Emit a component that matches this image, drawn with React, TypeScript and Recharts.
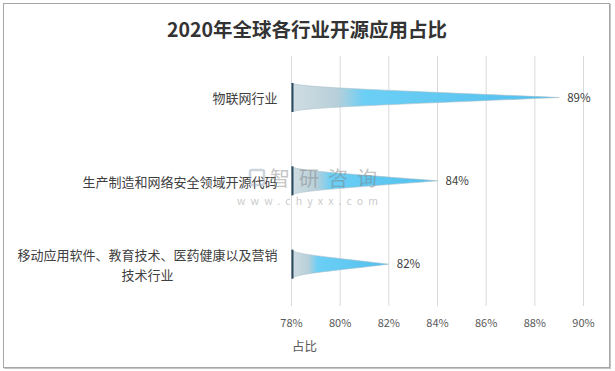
import React from 'react';
import { BarChart, Bar, XAxis, YAxis, CartesianGrid, LabelList } from 'recharts';

const categories = [
  '物联网行业',
  '生产制造和网络安全领域开源代码',
  '移动应用软件、教育技术、医药健康以及营销技术行业',
];
const shares = [89, 84, 82];
const xTicks = [78, 80, 82, 84, 86, 88, 90];
const title = '2020年全球各行业开源应用占比';
const xAxisTitle = '占比';
const watermarkCn = '智研咨询';
const watermarkEn = 'www.chyxx.com';

const data = categories.map((name, i) => ({ name, value: shares[i] }));

const FONT = '"Noto Sans CJK SC", "Noto Sans", sans-serif';
const W = 615;
const H = 371;

const SpikeShape = (props: any) => {
  const { x, y, width, height } = props;
  if (!width || width <= 0) return null;
  const top = y;
  const bot = y + height;
  const cy = y + height / 2;
  const tip = x + width;
  const h2 = height / 2;
  const d =
    `M${x},${top} ` +
    `C${x + 0.03 * width},${top + 0.3 * h2} ${x + 0.3 * width},${top + 0.45 * h2} ${tip},${cy} ` +
    `C${x + 0.3 * width},${bot - 0.45 * h2} ${x + 0.03 * width},${bot - 0.3 * h2} ${x},${bot} Z`;
  return (
    <g>
      <path d={d} fill="url(#spikeGrad)" stroke="#a9bfca" strokeWidth={0.6} />
      <line x1={x + 1} x2={x + 1} y1={top} y2={bot} stroke="#2e4b5e" strokeWidth={2} />
    </g>
  );
};

const YTick = (props: any) => {
  const { x, y, payload } = props;
  const text: string = String(payload.value);
  const fs = 13;
  const maxChars = 20;
  const common = { fontSize: fs, fontFamily: FONT, fill: '#404040', dominantBaseline: 'central' as const };
  if (text.length <= maxChars) {
    return (
      <text x={x} y={y} textAnchor="end" {...common}>
        {text}
      </text>
    );
  }
  const l1 = text.slice(0, maxChars);
  const l2 = text.slice(maxChars);
  const center = x - (l1.length * fs) / 2;
  return (
    <g>
      <text x={x} y={y - 10} textAnchor="end" {...common}>
        {l1}
      </text>
      <text x={center} y={y + 10} textAnchor="middle" {...common}>
        {l2}
      </text>
    </g>
  );
};

const XTick = (props: any) => {
  const { x, y, payload } = props;
  return (
    <text
      x={x}
      y={y + 16}
      textAnchor="middle"
      dominantBaseline="central"
      fontSize={11}
      fontFamily={FONT}
      fill="#595959"
    >
      {`${payload.value}%`}
    </text>
  );
};

export default function App() {
  return (
    <div style={{ position: 'absolute', left: 0, top: 0, width: W, height: H, background: '#fff' }}>
      <div
        style={{
          position: 'absolute',
          left: 3,
          top: 3,
          width: 605,
          height: 363,
          border: '1px solid #a6a6a6',
          boxShadow: '1px 1px 0 #c4c4c4',
        }}
      />
      <div style={{ position: 'absolute', left: 0, top: 0 }}>
        <BarChart
          width={W}
          height={H}
          data={data}
          layout="vertical"
          margin={{ top: 56, right: 31.5, bottom: 0, left: 0 }}
          barCategoryGap={0}
        >
          <defs>
            <linearGradient id="spikeGrad" x1="0" y1="0" x2="1" y2="0">
              <stop offset="0" stopColor="#d0dde3" />
              <stop offset="0.17" stopColor="#b8cfd9" />
              <stop offset="0.27" stopColor="#6ccff5" />
              <stop offset="1" stopColor="#50bfee" />
            </linearGradient>
          </defs>
          <CartesianGrid horizontal={false} stroke="#d9d9d9" />
          <XAxis
            type="number"
            domain={[78, 90]}
            ticks={xTicks}
            axisLine={false}
            tickLine={false}
            tickSize={0}
            tickMargin={0}
            height={65}
            tick={<XTick />}
            interval={0}
          />
          <YAxis
            type="category"
            dataKey="name"
            width={291.5}
            axisLine={false}
            tickLine={false}
            tickSize={0}
            tickMargin={14}
            tick={<YTick />}
            interval={0}
          />
          <Bar dataKey="value" barSize={29} shape={<SpikeShape />} isAnimationActive={false}>
            <LabelList
              dataKey="value"
              position="right"
              offset={8}
              formatter={(v: any) => `${v}%`}
              fill="#404040"
              fontSize={11.5}
              fontFamily={FONT}
            />
          </Bar>
        </BarChart>
      </div>
      <svg
        width={W}
        height={H}
        style={{ position: 'absolute', left: 0, top: 0, pointerEvents: 'none' }}
      >
        <text
          x={307}
          y={28}
          textAnchor="middle"
          dominantBaseline="central"
          fontSize={19.5}
          fontWeight="bold"
          fontFamily={FONT}
          fill="#333333"
        >
          {title}
        </text>
        <text
          x={292}
          y={345}
          dominantBaseline="central"
          fontSize={12.5}
          fontFamily={FONT}
          fill="#595959"
        >
          {xAxisTitle}
        </text>
        <g opacity={0.45}>
          <rect x={250} y={170} width={14} height={15} rx={2} fill="none" stroke="#8fa3b8" strokeWidth={2.5} />
          <text
            x={270}
            y={177}
            dominantBaseline="central"
            fontSize={20}
            fontFamily={FONT}
            fill="#7f7f7f"
            textLength={107}
            lengthAdjust="spacing"
          >
            {watermarkCn}
          </text>
          <text
            x={237}
            y={200}
            dominantBaseline="central"
            fontSize={10.5}
            fontFamily={FONT}
            fill="#8a8a8a"
            textLength={141}
            lengthAdjust="spacing"
          >
            {watermarkEn}
          </text>
        </g>
      </svg>
    </div>
  );
}
